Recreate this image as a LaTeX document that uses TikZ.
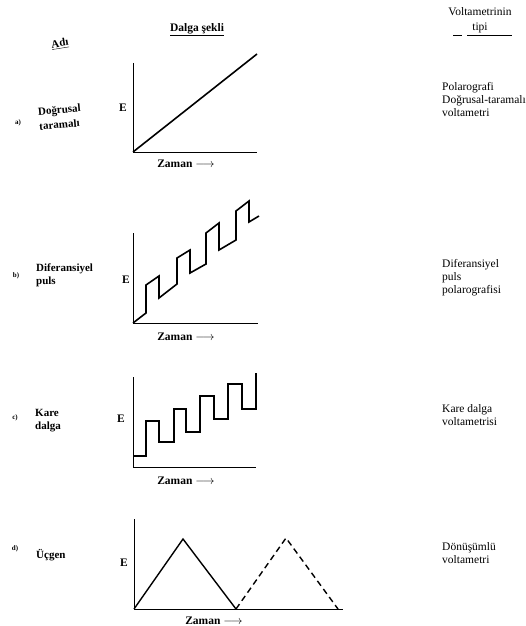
\documentclass[tikz,border=0pt]{standalone}
\usepackage{fontspec}
\setmainfont{Liberation Serif}
\usetikzlibrary{positioning}

\tikzset{
  axis/.style={line width=0.9pt},
  wave/.style={line width=1.6pt, line join=miter},
  rowlabel/.style={font=\bfseries\fontsize{11}{13}\selectfont, align=left, inner sep=0pt},
  typelabel/.style={font=\fontsize{11.5}{13}\selectfont, align=left, anchor=north west, inner sep=0pt},
  axlabel/.style={font=\bfseries\fontsize{11.5}{12}\selectfont, inner sep=0pt}
}

\begin{document}
\begin{tikzpicture}[x=1pt, y=-1pt]
  \useasboundingbox (0,0) rectangle (526,626);

  % column headers
  \node [rowlabel, rotate=9] (adi) at (60,44) {\underline{Adı}};
  \node [axlabel] (dalga) at (197,30) {\underline{Dalga şekli}};
  \node [font=\fontsize{11.5}{12}\selectfont, inner sep=0pt] (volt) at (480,12) {Voltametrinin};
  \node [font=\fontsize{11.5}{12}\selectfont, inner sep=0pt] (tipi) at (480,28) {tipi};
  \coordinate (u0) at (453,35);
  \coordinate (u1) at (462,35);
  \coordinate (u2) at (467,35);
  \coordinate (u3) at (512,35);
  \draw [thin] (u0) -- (u1);
  \draw [thin] (u2) -- (u3);

  % (a) dogrusal taramali
  \node [rowlabel, font=\bfseries\scriptsize] (la) at (18,123) {a)};
  \node [rowlabel, font=\bfseries\fontsize{11}{15}\selectfont, rotate=5] (na) at (60,117) {Doğrusal\\taramalı};
  \coordinate (a0) at (133,152);
  \coordinate (ay) at (133,63);
  \coordinate (ax) at (257,152);
  \draw [axis] (ay) -- (a0) -- (ax);
  \draw [wave] (a0) -- (257,54);
  \node [axlabel] (Ea) at (123,108) {E};
  \node [axlabel] (ta) at (186,164) {Zaman $\longrightarrow$};
  \node [typelabel] (va) at (442,82) {Polarografi\\Doğrusal-taramalı\\voltametri};

  % (b) diferansiyel puls
  \node [rowlabel, font=\bfseries\scriptsize] (lb) at (16,276) {b)};
  \node [rowlabel] (nb) at (36,275) [anchor=west] {Diferansiyel\\puls};
  \coordinate (b0) at (133,323);
  \coordinate (by) at (133,233);
  \coordinate (bx) at (258,323);
  \draw [axis] (by) -- (b0) -- (bx);
  \draw [wave] (b0) -- (146,313) -- (146,285) -- (159,276) -- (159,298)
    -- (177,284) -- (177,258) -- (190,250) -- (190,273)
    -- (206,264) -- (206,233) -- (219,223) -- (219,250)
    -- (236,240) -- (236,211) -- (249,201) -- (249,222) -- (259,216);
  \node [axlabel] (Eb) at (126,280) {E};
  \node [axlabel] (tb) at (186,337) {Zaman $\longrightarrow$};
  \node [typelabel] (vb) at (442,259) {Diferansiyel\\puls\\polarografisi};

  % (c) kare dalga
  \node [rowlabel, font=\bfseries\scriptsize] (lc) at (15,418) {c)};
  \node [rowlabel] (nc) at (35,421) [anchor=west] {Kare\\dalga};
  \coordinate (c0) at (133,467);
  \coordinate (cy) at (133,377);
  \coordinate (cx) at (256,467);
  \draw [axis] (cy) -- (c0) -- (cx);
  \draw [wave] (133,456) -- (146,456) -- (146,421) -- (159,421) -- (159,442)
    -- (174,442) -- (174,409) -- (186,409) -- (186,432)
    -- (200,432) -- (200,396) -- (214,396) -- (214,419)
    -- (228,419) -- (228,384) -- (242,384) -- (242,409)
    -- (256,409) -- (256,373);
  \node [axlabel] (Ec) at (121,419) {E};
  \node [axlabel] (tc) at (186,481) {Zaman $\longrightarrow$};
  \node [typelabel] (vc) at (442,404) {Kare dalga\\voltametrisi};

  % (d) ucgen
  \node [rowlabel, font=\bfseries\scriptsize] (ld) at (15,549) {d)};
  \node [rowlabel] (nd) at (36,555) [anchor=west] {Üçgen};
  \coordinate (d0) at (134,609);
  \coordinate (dy) at (134,519);
  \coordinate (dx) at (343,609);
  \draw [axis] (dy) -- (d0) -- (dx);
  \draw [wave, line width=1.4pt] (d0) -- (183,539) -- (236,609);
  \draw [wave, line width=1.4pt, dash pattern=on 6pt off 4pt] (236,609) -- (286,538) -- (338,609);
  \node [axlabel] (Ed) at (124,563) {E};
  \node [axlabel] (td) at (214,621) {Zaman $\longrightarrow$};
  \node [typelabel] (vd) at (442,542) {Dönüşümlü\\voltametri};

\end{tikzpicture}
\end{document}
